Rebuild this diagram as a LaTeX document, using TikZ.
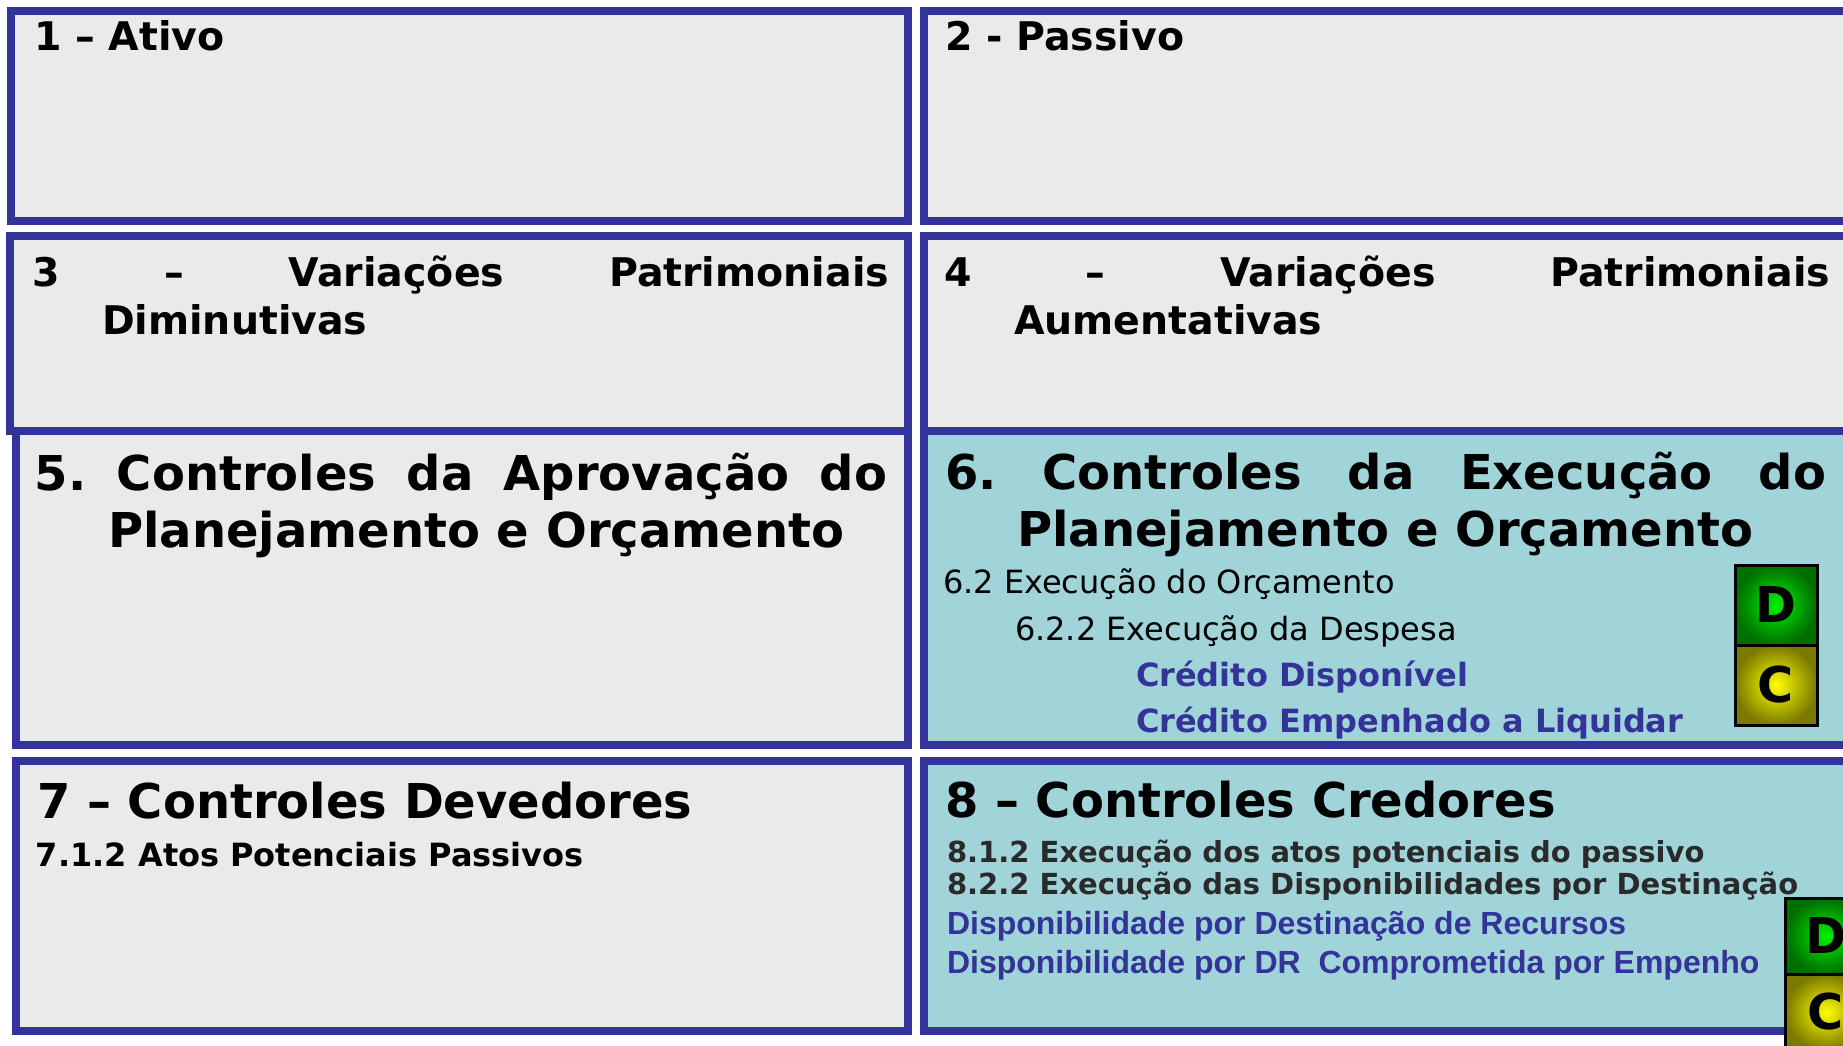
\documentclass[tikz,border=0pt]{standalone}
\usepackage{fontspec}
\setmainfont{DejaVu Sans}
\newfontfamily\arialf{Liberation Sans}
\newdimen\pxu \pxu=0.75pt
\frenchspacing
\definecolor{bordblue}{HTML}{333399}
\definecolor{boxgray}{HTML}{EAEAEA}
\definecolor{boxcyan}{HTML}{A0D4D9}
\definecolor{darkgr}{HTML}{2A2A2A}
\definecolor{dgreenout}{HTML}{006E00}
\definecolor{dgreenin}{HTML}{00F000}
\definecolor{cyelout}{HTML}{7A7A00}
\definecolor{cyelin}{HTML}{FFFF00}
\tikzset{
  panel/.style={draw=bordblue, line width=6pt, inner sep=0pt, outer sep=0pt},
  graypanel/.style={panel, fill=boxgray},
  cyanpanel/.style={panel, fill=boxcyan},
  txt/.style={anchor=base west, inner sep=0pt, outer sep=0pt},
  ttlA/.style={txt, font=\bfseries\fontsize{29.6}{36}\selectfont},
  ttlB/.style={txt, font=\bfseries\fontsize{36}{42.75}\selectfont},
  subreg/.style={txt, font=\fontsize{24}{28}\selectfont},
  subbold/.style={txt, font=\bfseries\fontsize{24}{28}\selectfont},
  subblue/.style={subbold, text=bordblue},
  subgray/.style={txt, text=darkgr, font=\bfseries\fontsize{21.75}{26}\selectfont},
  arialblue/.style={txt, text=bordblue, font=\arialf\bfseries\fontsize{24}{28}\selectfont},
  dcsq/.style={draw=black, line width=2.25pt, minimum width=82\pxu, minimum height=80\pxu, inner sep=0pt, font=\bfseries\fontsize{37}{40}\selectfont},
  dsq/.style={dcsq, inner color=dgreenin, outer color=dgreenout},
  csq/.style={dcsq, inner color=cyelin, outer color=cyelout},
}
\begin{document}
\begin{tikzpicture}[x=0.75pt, y=-0.75pt]
\clip (0,0) rectangle (1843,1046);
\fill[white] (0,0) rectangle (1843,1046);
% panels (centre-line coordinates)
\node[graypanel, minimum width=897\pxu, minimum height=210\pxu] (b1) at (459.5,116) {};
\node[graypanel, minimum width=946\pxu, minimum height=210\pxu] (b2) at (1397,116) {};
\node[graypanel, minimum width=898\pxu, minimum height=195\pxu] (b3) at (459,333.5) {};
\node[graypanel, minimum width=946\pxu, minimum height=195\pxu] (b4) at (1397,333.5) {};
\node[graypanel, minimum width=892\pxu, minimum height=314\pxu] (b5) at (462,588) {};
\node[cyanpanel, minimum width=946\pxu, minimum height=314\pxu] (b6) at (1397,588) {};
\node[graypanel, minimum width=892\pxu, minimum height=270\pxu] (b7) at (462,896) {};
\node[cyanpanel, minimum width=946\pxu, minimum height=270\pxu] (b8) at (1397,896) {};
% box 1 and 2
\node[ttlA] (t1) at (34,50) {1 – Ativo};
\node[ttlA] (t2) at (945,50) {2 - Passivo};
% box 3 and 4
\node[ttlA] (t3a) at (32,286) {\makebox[857\pxu][s]{3 – Variações Patrimoniais}};
\node[ttlA] (t3b) at (102,334) {Diminutivas};
\node[ttlA] (t4a) at (944,286) {\makebox[886\pxu][s]{4 – Variações Patrimoniais}};
\node[ttlA] (t4b) at (1014,334) {Aumentativas};
% box 5
\node[ttlB] (t5a) at (35,490) {\makebox[852\pxu][s]{5. Controles da Aprovação do}};
\node[ttlB] (t5b) at (108,547) {Planejamento e Orçamento};
% box 6
\node[ttlB] (t6a) at (945,489) {\makebox[881\pxu][s]{6. Controles da Execução do}};
\node[ttlB] (t6b) at (1017,546) {Planejamento e Orçamento};
\node[subreg] (t6c) at (943,593) {6.2 Execução do Orçamento};
\node[subreg] (t6d) at (1015,640) {6.2.2 Execução da Despesa};
\node[subblue] (t6e) at (1136,686) {Crédito Disponível};
\node[subblue] (t6f) at (1136,732) {Crédito Empenhado a Liquidar};
\node[dsq] (d6) at (1776,605) {D};
\node[csq] (c6) at (1776,685) {C};
% box 7
\node[ttlB] (t7a) at (37,818) {7 – Controles Devedores};
\node[subbold] (t7b) at (36,866) {7.1.2 Atos Potenciais Passivos};
% box 8
\node[ttlB] (t8a) at (945,817) {8 – Controles Credores};
\node[subgray] (t8b) at (947,862) {8.1.2 Execução dos atos potenciais do passivo};
\node[subgray] (t8c) at (947,894) {8.2.2 Execução das Disponibilidades por Destinação};
\node[arialblue] (t8d) at (947,934) {Disponibilidade por Destinação de Recursos};
\node[arialblue] (t8e) at (947,973) {Disponibilidade por DR\ \ Comprometida por Empenho};
\node[dsq, minimum height=76\pxu] (d8) at (1826,936) {D};
\node[csq, minimum height=76\pxu] (c8) at (1826,1012) {C};
\end{tikzpicture}
\end{document}
